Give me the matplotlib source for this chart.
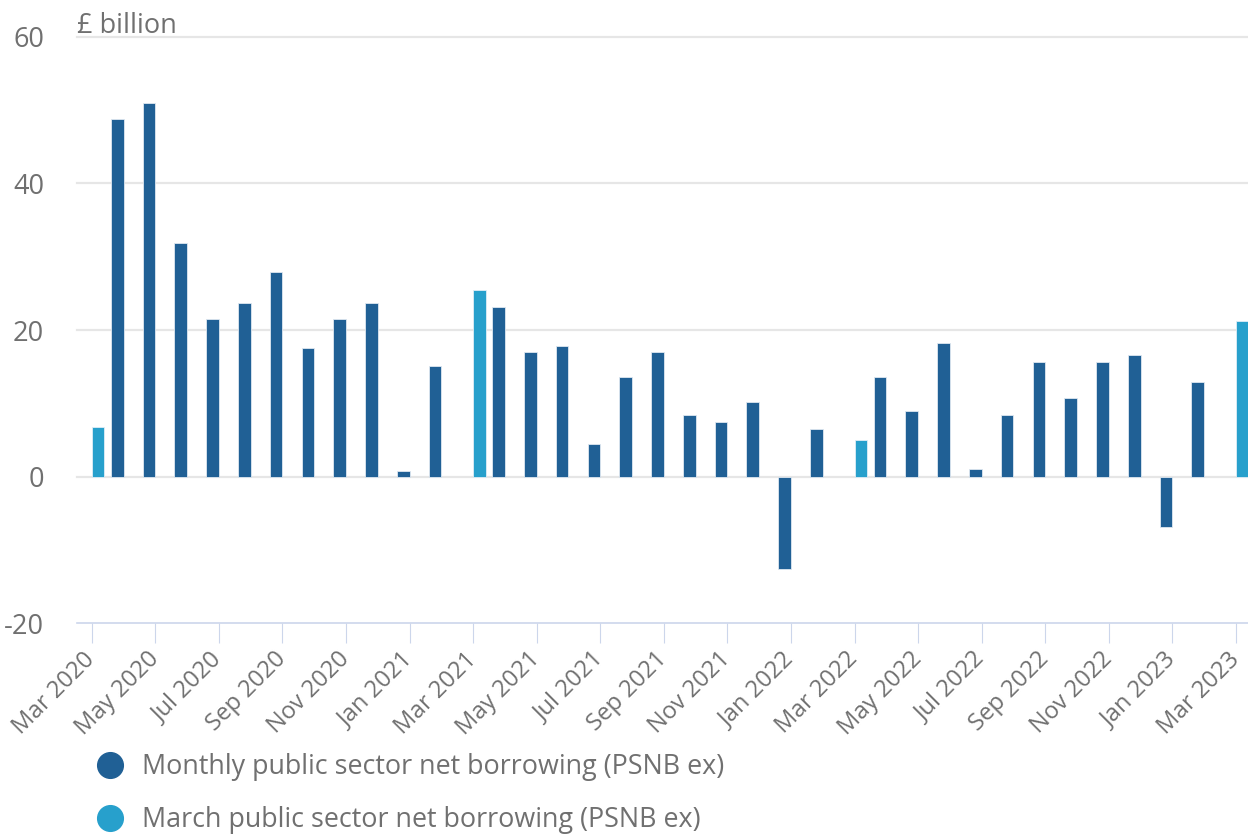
import numpy as np
import pandas as pd
import matplotlib
matplotlib.use('Agg')
import matplotlib.pyplot as plt
from matplotlib.lines import Line2D

plt.rcParams['font.family'] = ['Open Sans', 'DejaVu Sans']

# categories: every month from Mar 2020 to Mar 2023
months = [d.strftime('%b %Y') for d in pd.date_range('2020-03-01', '2023-03-01', freq='MS')]

nan = np.nan
# £ billion
monthly_psnb = [nan, 48.8, 50.9, 31.9, 21.5, 23.7, 27.9, 17.6, 21.5, 23.7, 0.8, 15.1,
                nan, 23.1, 17.0, 17.8, 4.5, 13.6, 17.0, 8.4, 7.5, 10.2, -12.6, 6.5,
                nan, 13.6, 9.0, 18.2, 1.0, 8.4, 15.7, 10.8, 15.7, 16.6, -6.9, 12.9,
                nan]
march_psnb = [6.8, nan, nan, nan, nan, nan, nan, nan, nan, nan, nan, nan,
              25.5, nan, nan, nan, nan, nan, nan, nan, nan, nan, nan, nan,
              5.0, nan, nan, nan, nan, nan, nan, nan, nan, nan, nan, nan,
              21.2]

labels = ['Monthly public sector net borrowing (PSNB ex)',
          'March public sector net borrowing (PSNB ex)']
dark_blue = '#206095'
light_blue = '#27a0cc'
text_grey = '#707070'
axis_col = '#ccd6eb'

fig = plt.figure(figsize=(12.48, 8.36), dpi=100)
ax = fig.add_axes([0.0615, 0.2543, 0.9385, 0.7018])

x = np.arange(len(months))
w = 0.4
ax.bar(x - w / 2, monthly_psnb, width=w, color=dark_blue, edgecolor='#dfe8f1', linewidth=0.6, zorder=3)
ax.bar(x + w / 2, march_psnb, width=w, color=light_blue, edgecolor='#dfeef6', linewidth=0.6, zorder=3)

for yv in [0, 20, 40, 60]:
    ax.axhline(yv, color='#e6e6e6', lw=1.6, zorder=1, clip_on=False)

ax.set_xlim(-0.472, 36.38)
ax.set_ylim(-20, 60)
ax.set_yticks([-20, 0, 20, 40, 60])
ax.set_yticklabels(['-20', '0', '20', '40', '60'])
ax.set_xticks(x[::2])
ax.set_xticklabels(months[::2], rotation=45, ha='right', va='center', rotation_mode='anchor')

ax.tick_params(axis='y', length=0, pad=23.5, labelsize=19.5, labelcolor=text_grey)
ax.tick_params(axis='x', length=14.4, width=0.8, color=axis_col, pad=9,
               labelsize=17.2, labelcolor=text_grey)
for lbl in ax.get_yticklabels():
    lbl.set_va('center_baseline')

for s in ['top', 'right', 'left']:
    ax.spines[s].set_visible(False)
ax.spines['bottom'].set_color(axis_col)
ax.spines['bottom'].set_linewidth(1.2)

fig.text(77 / 1248, 1 - 33 / 836, '£ billion', fontsize=19.5, color=text_grey, va='baseline', ha='left')

handles = [Line2D([], [], marker='o', linestyle='', markersize=18.5, color=dark_blue),
           Line2D([], [], marker='o', linestyle='', markersize=18.5, color=light_blue)]
fig.legend(handles, labels, loc='upper left', bbox_to_anchor=(97 / 1248, 1 - 753 / 836),
           frameon=False, fontsize=19.4, labelcolor=text_grey, handlelength=1.0,
           handletextpad=0.68, borderpad=0, borderaxespad=0, labelspacing=0.93)

fig.savefig('out.png', dpi=100)
